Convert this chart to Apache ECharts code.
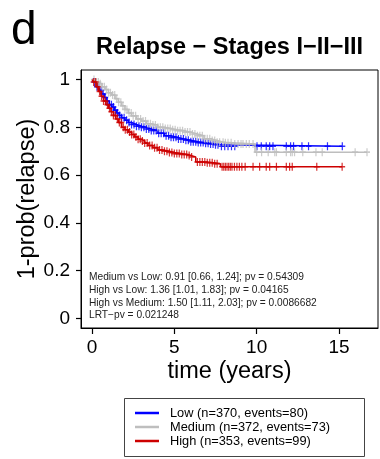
<!DOCTYPE html>
<html>
<head>
<meta charset="utf-8">
<script src="https://cdn.jsdelivr.net/npm/echarts@6/dist/echarts.min.js"></script>
<style>html,body{margin:0;padding:0;background:#fff;}#c{width:380px;height:459px;}</style>
</head>
<body>
<div id="c"></div>
<script>
const xTicks = [0, 5, 10, 15];
const yTicks = [0, 0.2, 0.4, 0.6, 0.8, 1];
const seriesNames = ['Low (n=370, events=80)', 'Medium (n=372, events=73)', 'High (n=353, events=99)'];
const statLines = [
  'Medium vs Low: 0.91 [0.66, 1.24]; pv = 0.54309',
  'High vs Low: 1.36 [1.01, 1.83]; pv = 0.04165',
  'High vs Medium: 1.50 [1.11, 2.03]; pv = 0.0086682',
  'LRT\u2212pv = 0.021248'
];

// Low
const lowTimes = [0,0.15,0.3,0.45,0.6,0.75,0.9,1.05,1.2,1.35,1.5,1.65,1.8,2.0,2.2,2.4,2.7,3.0,3.3,3.6,4.0,4.4,4.8,5.2,5.6,6.0,6.4,6.8,7.2,7.5,7.85];
const lowSurv  = [1,0.99,0.97,0.955,0.94,0.925,0.91,0.895,0.885,0.872,0.86,0.85,0.84,0.83,0.82,0.812,0.805,0.80,0.793,0.787,0.775,0.765,0.758,0.751,0.746,0.74,0.736,0.733,0.73,0.727,0.721];
const lowEnd = 15.2;
const lowCensor = [0.15,0.3,0.42,0.55,0.68,0.8,0.92,1.05,1.18,1.3,1.42,1.55,1.68,1.8,1.95,2.1,2.25,2.4,2.55,2.7,2.85,3.0,3.15,3.3,3.45,3.6,3.75,3.9,4.05,4.2,4.35,4.5,4.65,4.8,4.95,5.1,5.25,5.4,5.55,5.7,5.85,6.0,6.15,6.3,6.45,6.6,6.75,6.9,7.05,7.2,7.35,7.5,7.65,7.86,8.06,8.26,8.47,8.67,10.02,10.28,10.58,10.79,10.99,11.8,12.06,12.24,12.75,13.15,14.3,15.2];

// Medium
const medTimes = [0,0.2,0.4,0.6,0.8,1.0,1.2,1.4,1.6,1.8,2.0,2.2,2.4,2.7,3.0,3.3,3.6,4.0,4.4,4.8,5.2,5.6,6.0,6.4,6.8,7.2,7.6,8.0,8.6,9.9];
const medSurv  = [1,0.99,0.982,0.97,0.958,0.945,0.935,0.92,0.905,0.89,0.875,0.86,0.848,0.835,0.826,0.815,0.81,0.80,0.795,0.79,0.786,0.78,0.772,0.765,0.752,0.745,0.738,0.735,0.73,0.696];
const medEnd = 16.7;
const medCensor = [0.12,0.25,0.38,0.5,0.62,0.75,0.88,1.0,1.12,1.25,1.38,1.5,1.62,1.75,1.88,2.0,2.12,2.25,2.38,2.5,2.65,2.8,2.95,3.1,3.25,3.4,3.55,3.7,3.85,4.0,4.15,4.3,4.45,4.6,4.75,4.9,5.05,5.2,5.35,5.5,5.65,5.8,5.95,6.1,6.25,6.4,6.55,6.7,6.85,7.0,7.15,7.3,7.45,7.6,7.75,7.96,8.1,8.26,8.45,8.67,8.87,9.05,9.17,9.37,9.55,9.78,10.0,10.3,10.7,11.1,11.2,11.8,12.06,12.16,12.3,12.8,13.6,13.98,15.98,16.7];

// High
const highTimes = [0,0.1,0.25,0.4,0.55,0.7,0.85,1.0,1.15,1.3,1.45,1.6,1.8,2.0,2.2,2.4,2.6,2.8,3.0,3.2,3.4,3.7,4.0,4.3,4.7,5.0,5.4,5.8,6.0,6.3,7.0,7.4,7.8];
const highSurv  = [1,0.99,0.97,0.95,0.93,0.91,0.895,0.88,0.865,0.85,0.835,0.82,0.80,0.79,0.78,0.77,0.76,0.75,0.743,0.734,0.724,0.715,0.705,0.70,0.695,0.69,0.686,0.682,0.676,0.655,0.652,0.648,0.635];
const highEnd = 15.2;
const highCensor = [0.1,0.22,0.34,0.46,0.58,0.7,0.82,0.94,1.06,1.18,1.3,1.42,1.54,1.66,1.78,1.9,2.02,2.15,2.28,2.41,2.54,2.67,2.8,2.93,3.06,3.2,3.35,3.5,3.65,3.8,3.95,4.1,4.25,4.4,4.55,4.7,4.85,5.0,5.15,5.3,5.45,5.6,5.75,5.9,6.05,6.4,6.55,6.7,6.85,7.0,7.15,7.3,7.45,7.6,7.9,8.0,8.1,8.2,8.3,8.4,8.5,8.65,8.8,8.95,9.1,9.3,9.78,10.18,10.58,10.79,11.2,11.8,12.0,12.16,13.65,15.19];

const colors = ['#0000FF', '#BEBEBE', '#CD0000'];
const FONT = 'Liberation Sans, Arial, sans-serif';

function survAt(times, surv, t) {
  let v = surv[0];
  for (let i = 0; i < times.length; i++) if (times[i] <= t) v = surv[i];
  return v;
}
function lineData(times, surv, end) {
  return times.map((t, i) => [t, surv[i]]).concat([[end, surv[surv.length - 1]]]);
}
function censorData(times, surv, cens) {
  return cens.map(t => [t, survAt(times, surv, t)]);
}

const groups = [
  [lowTimes, lowSurv, lowEnd, lowCensor],
  [medTimes, medSurv, medEnd, medCensor],
  [highTimes, highSurv, highEnd, highCensor]
];

const series = [];
groups.forEach((g, k) => {
  series.push({
    name: seriesNames[k], type: 'line', step: 'end', showSymbol: false, symbol: 'none',
    data: lineData(g[0], g[1], g[2]),
    lineStyle: { color: colors[k], width: 1.5 }, itemStyle: { color: colors[k] },
    z: 2 + k * 2, silent: true
  });
  series.push({
    name: seriesNames[k] + '_c', type: 'scatter',
    symbol: 'path://M5,0L5,10M0,5L10,5', symbolSize: [6, 8],
    data: censorData(g[0], g[1], g[3]),
    itemStyle: { color: 'rgba(0,0,0,0)', borderColor: colors[k], borderWidth: 1.4 },
    z: 3 + k * 2, silent: true
  });
});

const graphics = [
  { type: 'text', left: 11, top: 8, style: { text: 'd', font: '46px ' + FONT, fill: '#000' } },
  { type: 'text', x: 229.5, y: 47.5, style: { text: 'Relapse \u2212 Stages I\u2212II\u2212III', font: 'bold 23.5px ' + FONT, fill: '#000', align: 'center', verticalAlign: 'middle' } },
  { type: 'rect', shape: { x: 124.5, y: 398.5, width: 240, height: 58 }, style: { fill: 'none', stroke: '#444', lineWidth: 1 } }
];
statLines.forEach((s, i) => {
  graphics.push({ type: 'text', x: 89, y: 277.5 + i * 12.6, style: { text: s, font: '10.2px ' + FONT, fill: '#222', verticalAlign: 'middle' }, z: 10 });
});

const chart = echarts.init(document.getElementById('c'), null, { renderer: 'canvas' });
chart.setOption({
  animation: false,
  backgroundColor: '#fff',
  grid: { left: 81, right: 2, top: 70, bottom: 131, show: true, borderColor: '#000', borderWidth: 1, backgroundColor: 'transparent', outerBoundsMode: 'none', containLabel: false },
  xAxis: {
    type: 'value', min: -0.668, max: 17.368,
    name: 'time (years)', nameLocation: 'middle', nameGap: 32, nameMoveOverlap: false,
    nameTextStyle: { fontFamily: FONT, fontSize: 23.5, color: '#000' },
    axisLine: { show: true, onZero: false, lineStyle: { color: '#000', width: 1 } },
    axisTick: { show: true, customValues: xTicks, length: 6, lineStyle: { color: '#000', width: 1.2 } },
    axisLabel: { customValues: xTicks, fontFamily: FONT, fontSize: 19, color: '#000', margin: 10 },
    splitLine: { show: false }
  },
  yAxis: {
    type: 'value', min: -0.04, max: 1.04,
    name: '1-prob(relapse)', nameLocation: 'middle', nameGap: 41, nameRotate: 90, nameMoveOverlap: false,
    nameTextStyle: { fontFamily: FONT, fontSize: 23.5, color: '#000' },
    axisLine: { show: true, onZero: false, lineStyle: { color: '#000', width: 1 } },
    axisTick: { show: true, customValues: yTicks, length: 5, lineStyle: { color: '#000', width: 1.2 } },
    axisLabel: { customValues: yTicks, fontFamily: FONT, fontSize: 19, color: '#000', margin: 11, formatter: v => String(Math.round(v * 10) / 10) },
    splitLine: { show: false }
  },
  legend: {
    data: seriesNames, orient: 'vertical', left: 135, top: 406, padding: 0, itemGap: 0,
    icon: 'rect', itemWidth: 24, itemHeight: 2.5,
    textStyle: { fontFamily: FONT, fontSize: 12.8, color: '#000', lineHeight: 14, padding: [0, 0, 0, 6] },
    selectedMode: false
  },
  graphic: graphics,
  series: series
});
</script>
</body>
</html>
